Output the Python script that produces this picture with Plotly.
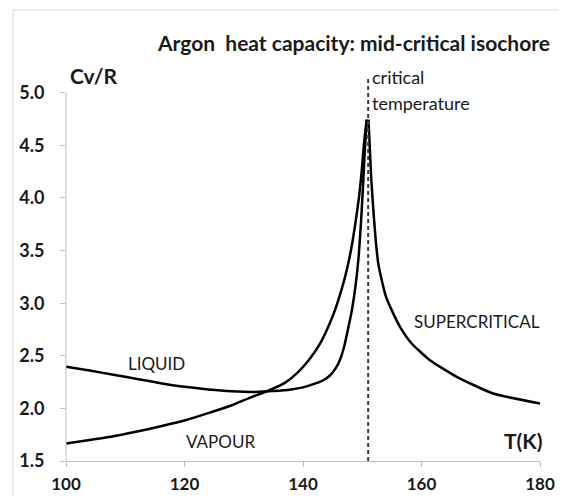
import plotly.graph_objects as go

# ---- data ----
liquid_T = [100, 104, 108, 112, 116, 120, 124, 128, 132, 135, 138, 140, 142, 143.5, 144.5, 145.5,
            146.3, 147, 147.7, 148.3, 148.9, 149.4, 149.8, 150.1, 150.4, 150.75]
liquid_v = [2.395, 2.36, 2.32, 2.28, 2.24, 2.205, 2.18, 2.163, 2.157, 2.165, 2.18, 2.20, 2.235, 2.27, 2.31, 2.38,
            2.47, 2.60, 2.78, 2.95, 3.18, 3.45, 3.78, 4.08, 4.42, 4.745]

vapour_T = [100, 104, 108, 112, 116, 120, 124, 128, 131, 134.4, 137, 139, 141, 142.9, 144.3, 145.4,
            146.4, 147.1, 147.8, 148.4, 149.0, 149.5, 149.9, 150.3, 150.75]
vapour_v = [1.666, 1.70, 1.735, 1.78, 1.83, 1.885, 1.955, 2.03, 2.10, 2.175, 2.245, 2.335, 2.46, 2.617, 2.78, 2.934,
            3.11, 3.25, 3.42, 3.60, 3.82, 4.03, 4.25, 4.52, 4.745]

super_T = [151.05, 151.3, 151.5, 151.87, 152.32, 152.7, 153.16, 154.01, 154.97, 156.37, 158.34, 161.43,
           165.94, 172.12, 180]
super_v = [4.745, 4.45, 4.20, 3.886, 3.569, 3.38, 3.251, 3.06, 2.934, 2.775, 2.617, 2.458,
           2.30, 2.141, 2.046]

T_critical = 151.0

x_ticks = [100, 120, 140, 160, 180]
y_ticks = [1.5, 2.0, 2.5, 3.0, 3.5, 4.0, 4.5, 5.0]
y_ticktext = [f"{v:.1f}" for v in y_ticks]

FONT = "Lato"
TXT = "#1a1a1a"
GRAY = "#bfbfbf"

# The page body has an 8px margin, so the figure is drawn 8px in from the
# top-left corner of the window; geometry below is in window pixels.
OFF = 8
WIN_W, WIN_H = 566, 496
W, H = WIN_W - OFF, WIN_H - OFF          # figure spans window pixels 8..566, 8..496
PLOT_L, PLOT_R, PLOT_T, PLOT_B = 66, 540, 77, 461   # plot area in window pixels
L, R, T, B = PLOT_L - OFF, WIN_W - PLOT_R, PLOT_T - OFF, WIN_H - PLOT_B
PW, PH = PLOT_R - PLOT_L, PLOT_B - PLOT_T


def xp(px):
    return (px - PLOT_L) / PW


def yp(py):
    return (PLOT_B - py) / PH


fig = go.Figure()
line = dict(color="black", width=2.5, shape="spline", smoothing=0.5)
fig.add_trace(go.Scatter(x=liquid_T, y=liquid_v, mode="lines", line=line, name="LIQUID"))
fig.add_trace(go.Scatter(x=vapour_T, y=vapour_v, mode="lines", line=line, name="VAPOUR"))
fig.add_trace(go.Scatter(x=super_T, y=super_v, mode="lines", line=line, name="SUPERCRITICAL"))

shapes = [
    # critical temperature dashed line
    dict(type="line", xref="x", yref="y", x0=T_critical, x1=T_critical, y0=1.5, y1=5.13,
         line=dict(color="#3a3a3a", width=2, dash="4px,3px")),
    # y axis line
    dict(type="line", xref="paper", yref="y", x0=0, x1=0, y0=1.5, y1=5.0,
         line=dict(color=GRAY, width=1)),
    # outer chart border (left and top visible)
    dict(type="line", xref="paper", yref="paper", x0=xp(13), x1=xp(13), y0=yp(10), y1=yp(500),
         line=dict(color="#d9d9d9", width=1)),
    dict(type="line", xref="paper", yref="paper", x0=xp(13), x1=xp(570), y0=yp(10), y1=yp(10),
         line=dict(color="#d9d9d9", width=1)),
]

annotations = [
    dict(text="<b>Argon  heat capacity: mid-critical isochore</b>", xref="paper", yref="paper",
         x=xp(353), y=yp(42), xanchor="center", yanchor="middle", showarrow=False,
         font=dict(family=FONT, size=21, color=TXT)),
    dict(text="<b>Cv/R</b>", xref="paper", yref="paper", x=xp(94), y=yp(75),
         xanchor="center", yanchor="middle", showarrow=False,
         font=dict(family=FONT, size=21, color=TXT)),
    dict(text="critical", xref="paper", yref="paper", x=xp(370), y=yp(77),
         xanchor="left", yanchor="middle", showarrow=False,
         font=dict(family=FONT, size=18, color=TXT)),
    dict(text="temperature", xref="paper", yref="paper", x=xp(370), y=yp(103),
         xanchor="left", yanchor="middle", showarrow=False,
         font=dict(family=FONT, size=18, color=TXT)),
    dict(text="LIQUID", x=115.3, y=2.43, xanchor="center", yanchor="middle", showarrow=False,
         font=dict(family=FONT, size=17, color=TXT)),
    dict(text="VAPOUR", x=126.0, y=1.69, xanchor="center", yanchor="middle", showarrow=False,
         font=dict(family=FONT, size=17, color=TXT)),
    dict(text="SUPERCRITICAL", x=169.4, y=2.83, xanchor="center", yanchor="middle", showarrow=False,
         font=dict(family=FONT, size=17, color=TXT)),
    dict(text="<b>T(K)</b>", xref="paper", yref="paper", x=xp(545), y=yp(440),
         xanchor="right", yanchor="middle", showarrow=False,
         font=dict(family=FONT, size=21, color=TXT)),
]

fig.update_layout(
    width=W, height=H,
    margin=dict(l=L, r=R, t=T, b=B, autoexpand=False),
    paper_bgcolor="white", plot_bgcolor="white",
    showlegend=False,
    shapes=shapes,
    annotations=annotations,
    xaxis=dict(range=[100, 180], tickvals=x_ticks, showgrid=False, zeroline=False,
               automargin=False,
               showline=True, linecolor=GRAY, linewidth=1,
               ticks="outside", ticklen=5, tickcolor=GRAY, tickwidth=1,
               ticklabelstandoff=3,
               tickfont=dict(family=FONT, size=17, color=TXT, weight="bold")),
    yaxis=dict(range=[1.5, 5.15], tickvals=y_ticks, ticktext=y_ticktext, showgrid=False,
               zeroline=False, automargin=False, showline=False,
               ticks="outside", ticklen=5, tickcolor=GRAY, tickwidth=1,
               ticklabelstandoff=12,
               tickfont=dict(family=FONT, size=18, color=TXT, weight="bold")),
)

fig.write_html("out.html")
